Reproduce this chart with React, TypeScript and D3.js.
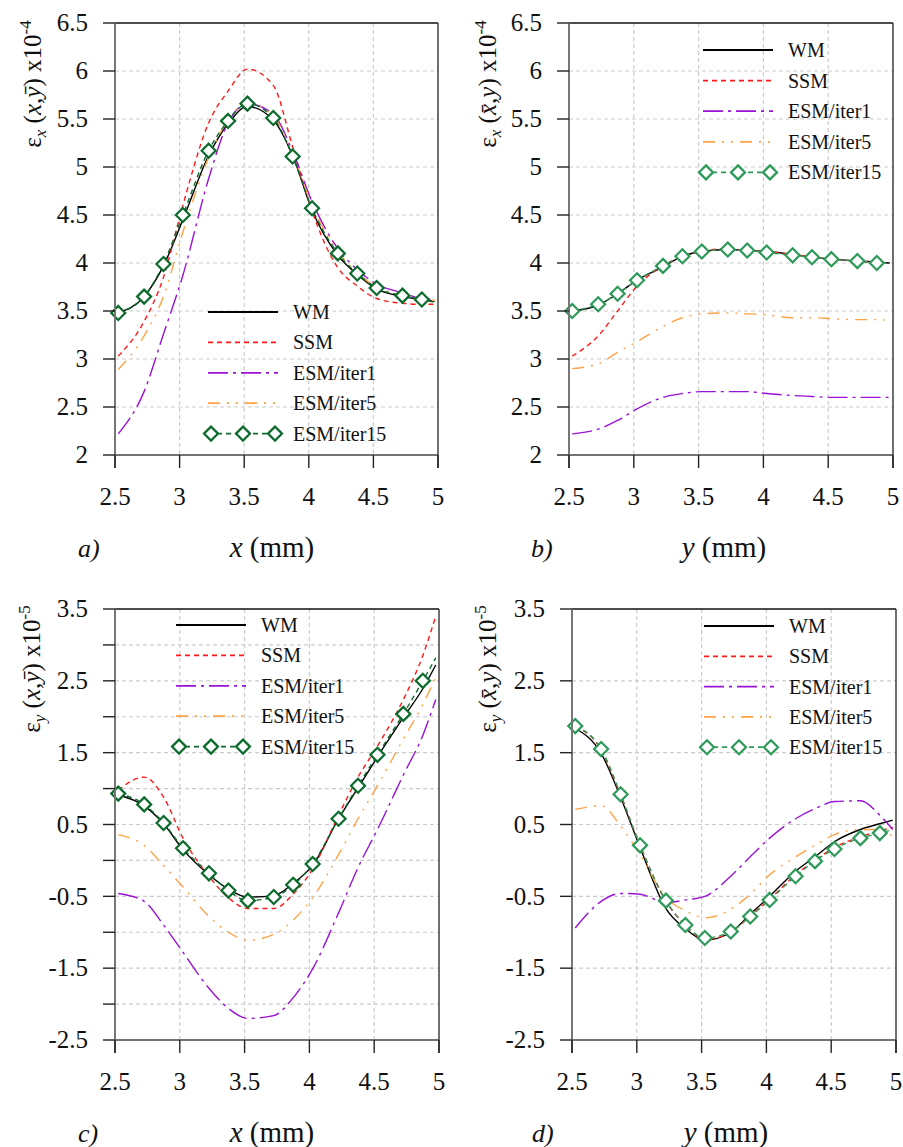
import * as d3 from 'd3';

// common sample positions (mm)
const xs = [2.525, 2.725, 2.875, 3.025, 3.225, 3.375, 3.525, 3.725, 3.875, 4.025, 4.225, 4.375, 4.525, 4.725, 4.875, 4.975];

const seriesNames = ['WM', 'SSM', 'ESM/iter1', 'ESM/iter5', 'ESM/iter15'];

// a) eps_x(x, ybar) x1e-4
const aWM = [3.48, 3.65, 3.97, 4.45, 5.12, 5.45, 5.63, 5.49, 5.12, 4.55, 4.08, 3.88, 3.73, 3.65, 3.62, 3.6];
const aSSM = [3.03, 3.39, 3.85, 4.6, 5.46, 5.79, 6.02, 5.85, 5.21, 4.54, 3.95, 3.76, 3.63, 3.58, 3.57, 3.57];
const aIter1 = [2.22, 2.66, 3.26, 3.87, 4.88, 5.46, 5.66, 5.55, 5.16, 4.64, 4.15, 3.93, 3.78, 3.69, 3.63, 3.62];
const aIter5 = [2.89, 3.24, 3.65, 4.32, 5.1, 5.49, 5.67, 5.53, 5.13, 4.6, 4.12, 3.9, 3.75, 3.67, 3.62, 3.61];
const aIter15 = [3.48, 3.65, 3.99, 4.5, 5.17, 5.48, 5.66, 5.51, 5.11, 4.57, 4.1, 3.89, 3.74, 3.66, 3.62, 3.59];

// b) eps_x(xbar, y) x1e-4
const bWM = [3.5, 3.56, 3.68, 3.82, 3.96, 4.07, 4.12, 4.14, 4.13, 4.12, 4.09, 4.06, 4.04, 4.02, 4.01, 4.0];
const bSSM = [3.03, 3.24, 3.5, 3.76, 3.97, 4.07, 4.12, 4.15, 4.13, 4.12, 4.09, 4.06, 4.04, 4.02, 4.01, 4.0];
const bIter1 = [2.22, 2.27, 2.36, 2.48, 2.6, 2.64, 2.66, 2.66, 2.66, 2.64, 2.62, 2.61, 2.6, 2.6, 2.6, 2.6];
const bIter5 = [2.9, 2.95, 3.07, 3.18, 3.34, 3.43, 3.47, 3.48, 3.47, 3.46, 3.43, 3.43, 3.42, 3.41, 3.41, 3.4];
const bIter15 = [3.5, 3.57, 3.68, 3.82, 3.97, 4.07, 4.12, 4.14, 4.13, 4.11, 4.08, 4.06, 4.04, 4.02, 4.0, 4.0];

// c) eps_y(x, ybar) x1e-5
const cWM = [0.91, 0.76, 0.51, 0.15, -0.2, -0.4, -0.51, -0.49, -0.32, -0.07, 0.58, 1.01, 1.44, 1.99, 2.39, 2.72];
const cSSM = [0.98, 1.16, 0.88, 0.31, -0.22, -0.52, -0.67, -0.67, -0.47, -0.12, 0.63, 1.16, 1.59, 2.24, 2.85, 3.4];
const cIter1 = [-0.46, -0.57, -0.9, -1.28, -1.78, -2.06, -2.2, -2.16, -1.91, -1.51, -0.73, -0.1, 0.43, 1.19, 1.74, 2.24];
const cIter5 = [0.36, 0.21, -0.07, -0.37, -0.78, -1.0, -1.11, -1.03, -0.83, -0.52, 0.08, 0.58, 1.04, 1.69, 2.17, 2.55];
const cIter15 = [0.93, 0.78, 0.52, 0.17, -0.18, -0.42, -0.56, -0.51, -0.34, -0.05, 0.58, 1.04, 1.47, 2.04, 2.5, 2.82];

// d) eps_y(xbar, y) x1e-5
const dWM = [1.84, 1.49, 0.88, 0.18, -0.67, -0.95, -1.11, -1.0, -0.75, -0.5, -0.15, 0.05, 0.26, 0.43, 0.51, 0.56];
const dSSM = [1.87, 1.54, 0.91, 0.21, -0.57, -0.9, -1.1, -1.0, -0.77, -0.54, -0.2, 0.0, 0.18, 0.33, 0.41, 0.46];
const dIter1 = [-0.94, -0.57, -0.46, -0.47, -0.59, -0.55, -0.5, -0.22, 0.05, 0.31, 0.58, 0.72, 0.82, 0.83, 0.63, 0.43];
const dIter5 = [0.71, 0.76, 0.48, 0.08, -0.52, -0.7, -0.8, -0.68, -0.47, -0.2, 0.05, 0.21, 0.36, 0.43, 0.43, 0.33];
const dIter15 = [1.87, 1.55, 0.92, 0.21, -0.56, -0.9, -1.08, -0.99, -0.78, -0.55, -0.22, -0.01, 0.16, 0.31, 0.38, 0.43];

const xTicks = [2.5, 3, 3.5, 4, 4.5, 5];
const xTickLabels = ['2.5', '3', '3.5', '4', '4.5', '5'];
const yTicksTop = [2, 2.5, 3, 3.5, 4, 4.5, 5, 5.5, 6, 6.5];
const yTickLabelsTop = ['2', '2.5', '3', '3.5', '4', '4.5', '5', '5.5', '6', '6.5'];
const yTicksBottom = [-2.5, -1.5, -0.5, 0.5, 1.5, 2.5, 3.5];
const yTickLabelsBottom = ['-2.5', '-1.5', '-0.5', '0.5', '1.5', '2.5', '3.5'];
const yMinorBottom = [-2, -1, 0, 1, 2, 3];

const FONT = "'Liberation Serif', 'Times New Roman', serif";

const styles = [
  { color: '#000000', dash: null, width: 1.4 },
  { color: '#ff1a1a', dash: '5,4', width: 1.4 },
  { color: '#9a12d6', dash: '20,5,3,5', width: 1.4 },
  { color: '#ffa347', dash: '12,7,2,7,2,7', width: 1.4 },
  { color: '#1a8a40', dash: '5,4', width: 1.4 },
];

type PanelCfg = {
  left: number; right: number; top: number; bottom: number;
  yDomain: [number, number];
  yTicks: number[]; yLabels: string[]; yExtraGrid: number[];
  series: number[][];
  markerColor: string;
  legendX: number; legendY: number; legendGap: number;
  tag: string; tagX: number;
  axisVar: string; titleX: number; titleY: number;
  ylab: { x: number; y: number; sub: string; args: [string, string]; exp: string };
};

function Diamond({ x, y, color }: { x: number; y: number; color: string }) {
  const r = 7;
  return (
    <path
      d={`M${x},${y - r}L${x + r},${y}L${x},${y + r}L${x - r},${y}Z`}
      fill="#fff"
      stroke={color}
      strokeWidth={2.2}
    />
  );
}

function Panel({ cfg }: { cfg: PanelCfg }) {
  const x = d3.scaleLinear().domain([2.5, 5]).range([cfg.left, cfg.right]);
  const y = d3.scaleLinear().domain(cfg.yDomain).range([cfg.bottom, cfg.top]);
  const line = d3
    .line<number>()
    .x((_, i) => x(xs[i]))
    .y((d) => y(d))
    .curve(d3.curveMonotoneX);
  const gridY = [...cfg.yTicks, ...cfg.yExtraGrid].filter((v) => v > cfg.yDomain[0] && v < cfg.yDomain[1]);

  return (
    <g>
      {/* grid */}
      {xTicks.slice(1, -1).map((t) => (
        <line key={'gx' + t} x1={x(t)} x2={x(t)} y1={cfg.top} y2={cfg.bottom} stroke="#cccccc" strokeWidth={1.2} strokeDasharray="4,3" />
      ))}
      {gridY.map((t) => (
        <line key={'gy' + t} x1={cfg.left} x2={cfg.right} y1={y(t)} y2={y(t)} stroke="#cccccc" strokeWidth={1.2} strokeDasharray="4,3" />
      ))}

      {/* series */}
      {cfg.series.map((vals, si) => (
        <path
          key={'s' + si}
          d={line(vals) || ''}
          fill="none"
          stroke={si === 4 ? cfg.markerColor : styles[si].color}
          strokeWidth={styles[si].width}
          strokeDasharray={styles[si].dash || undefined}
        />
      ))}
      {cfg.series[4].slice(0, 15).map((v, i) => (
        <Diamond key={'m' + i} x={x(xs[i])} y={y(v)} color={cfg.markerColor} />
      ))}

      {/* frame */}
      <line x1={cfg.left} x2={cfg.right} y1={cfg.top} y2={cfg.top} stroke="#111" strokeWidth={1.6} />
      <line x1={cfg.right} x2={cfg.right} y1={cfg.top} y2={cfg.bottom + 13} stroke="#333" strokeWidth={1.4} />
      <line x1={cfg.left} x2={cfg.right} y1={cfg.bottom} y2={cfg.bottom} stroke="#444" strokeWidth={1.6} />
      <line x1={cfg.left} x2={cfg.left} y1={cfg.top} y2={cfg.bottom + 13} stroke="#777" strokeWidth={2} />

      {/* y ticks */}
      {[...cfg.yTicks, ...cfg.yExtraGrid].map((t) => (
        <line key={'ty' + t} x1={cfg.left - 12} x2={cfg.left} y1={y(t)} y2={y(t)} stroke="#222" strokeWidth={1.4} />
      ))}
      {cfg.yTicks.map((t, i) => (
        <text key={'ly' + t} x={cfg.left - 27} y={y(t)} dy="0.33em" textAnchor="end" fontSize={25} fontFamily={FONT} fill="#111">
          {cfg.yLabels[i]}
        </text>
      ))}

      {/* x ticks */}
      {xTicks.map((t, i) => (
        <g key={'tx' + t}>
          <line x1={x(t)} x2={x(t)} y1={cfg.bottom} y2={cfg.bottom + 13} stroke="#222" strokeWidth={1.4} />
          <text x={x(t)} y={cfg.bottom + 50} textAnchor="middle" fontSize={25} fontFamily={FONT} fill="#111">
            {xTickLabels[i]}
          </text>
        </g>
      ))}

      {/* legend */}
      {seriesNames.map((name, si) => {
        const ly = cfg.legendY + si * cfg.legendGap;
        const x1 = cfg.legendX;
        const x2 = cfg.legendX + 70;
        const col = si === 4 ? cfg.markerColor : styles[si].color;
        return (
          <g key={'lg' + si}>
            <line x1={x1} x2={x2} y1={ly} y2={ly} stroke={col} strokeWidth={styles[si].width + 0.4} strokeDasharray={styles[si].dash || undefined} />
            {si === 4 && [x1 + 3, x1 + 35, x1 + 67].map((mx) => <Diamond key={mx} x={mx} y={ly} color={cfg.markerColor} />)}
            <text x={x2 + 15} y={ly} dy="0.35em" fontSize={20} fontFamily={FONT} fill="#111">
              {name}
            </text>
          </g>
        );
      })}

      {/* titles */}
      <text x={cfg.tagX} y={cfg.titleY} fontSize={26} fontStyle="italic" fontFamily={FONT} fill="#111">
        {cfg.tag}
      </text>
      <text x={cfg.titleX} y={cfg.titleY} textAnchor="middle" fontSize={29} fontFamily={FONT} fill="#111">
        <tspan fontStyle="italic">{cfg.axisVar}</tspan> (mm)
      </text>
      <text
        transform={`translate(${cfg.ylab.x},${cfg.ylab.y}) rotate(-90)`}
        textAnchor="middle"
        fontSize={25}
        fontFamily={FONT}
        fill="#111"
      >
        <tspan>ε</tspan>
        <tspan fontStyle="italic" fontSize={17} dy={5}>{cfg.ylab.sub}</tspan>
        <tspan dy={-5}> (</tspan>
        <tspan fontStyle="italic">{cfg.ylab.args[0]}</tspan>
        <tspan>,</tspan>
        <tspan fontStyle="italic">{cfg.ylab.args[1]}</tspan>
        <tspan>) x10</tspan>
        <tspan fontSize={17} dy={-10}>{cfg.ylab.exp}</tspan>
      </text>
    </g>
  );
}

const panels: PanelCfg[] = [
  {
    left: 115, right: 438, top: 23, bottom: 455, yDomain: [2, 6.5],
    yTicks: yTicksTop, yLabels: yTickLabelsTop, yExtraGrid: [],
    series: [aWM, aSSM, aIter1, aIter5, aIter15], markerColor: '#0b6b2c',
    legendX: 208, legendY: 312, legendGap: 30.4,
    tag: 'a)', tagX: 78, axisVar: 'x', titleX: 272, titleY: 557,
    ylab: { x: 41, y: 84, sub: 'x', args: ['x', 'ȳ'], exp: '-4' },
  },
  {
    left: 569, right: 893, top: 23, bottom: 455, yDomain: [2, 6.5],
    yTicks: yTicksTop, yLabels: yTickLabelsTop, yExtraGrid: [],
    series: [bWM, bSSM, bIter1, bIter5, bIter15], markerColor: '#2e9a5a',
    legendX: 703, legendY: 50, legendGap: 30.6,
    tag: 'b)', tagX: 531, axisVar: 'y', titleX: 724, titleY: 557,
    ylab: { x: 496, y: 84, sub: 'x', args: ['x̄', 'y'], exp: '-4' },
  },
  {
    left: 115, right: 439, top: 609, bottom: 1040, yDomain: [-2.5, 3.5],
    yTicks: yTicksBottom, yLabels: yTickLabelsBottom, yExtraGrid: yMinorBottom,
    series: [cWM, cSSM, cIter1, cIter5, cIter15], markerColor: '#0b6b2c',
    legendX: 176, legendY: 625, legendGap: 30.4,
    tag: 'c)', tagX: 78, axisVar: 'x', titleX: 272, titleY: 1142,
    ylab: { x: 40, y: 669, sub: 'y', args: ['x', 'ȳ'], exp: '-5' },
  },
  {
    left: 572, right: 896, top: 609, bottom: 1040, yDomain: [-2.5, 3.5],
    yTicks: yTicksBottom, yLabels: yTickLabelsBottom, yExtraGrid: [],
    series: [dWM, dSSM, dIter1, dIter5, dIter15], markerColor: '#2e9a5a',
    legendX: 704, legendY: 626, legendGap: 30.3,
    tag: 'd)', tagX: 532, axisVar: 'y', titleX: 726, titleY: 1142,
    ylab: { x: 496, y: 669, sub: 'y', args: ['x̄', 'y'], exp: '-5' },
  },
];

export default function App() {
  return (
    <svg width={903} height={1147} style={{ position: 'absolute', left: 0, top: 0, background: '#fff' }}>
      <rect width={903} height={1147} fill="#fff" />
      {panels.map((p, i) => (
        <Panel key={i} cfg={p} />
      ))}
    </svg>
  );
}
